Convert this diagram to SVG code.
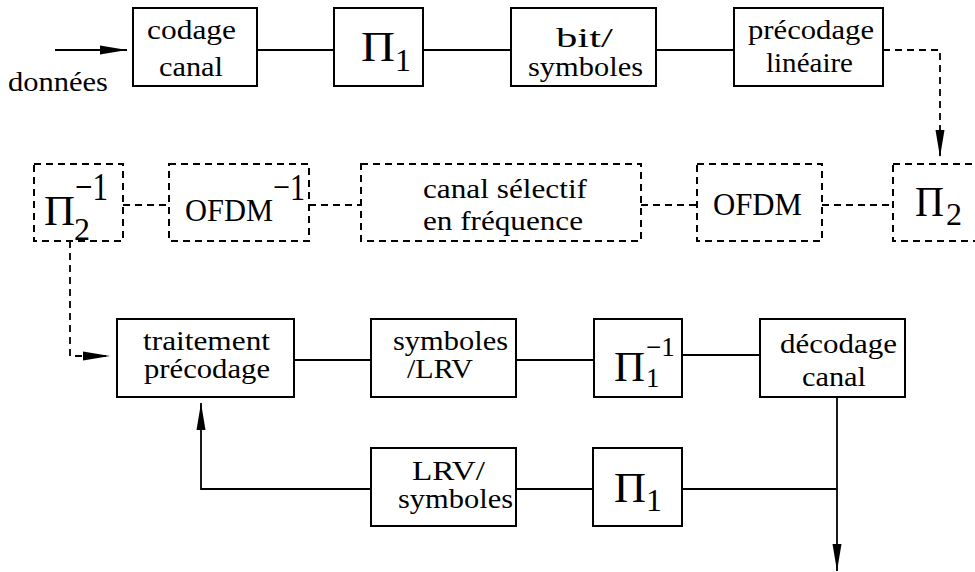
<svg xmlns="http://www.w3.org/2000/svg" width="975" height="572" viewBox="0 0 975 572">
<style>
.box{fill:#fff;stroke:#000;stroke-width:2}
.dbox{fill:#fff;stroke:#000;stroke-width:2;stroke-dasharray:7 5}
.ln{fill:none;stroke:#000;stroke-width:1.8}
.dl{fill:none;stroke:#000;stroke-width:1.8;stroke-dasharray:7 5}
text{font-family:'Liberation Serif','Times New Roman',serif;fill:#000}
.t{font-size:27px}
.pi{font-size:43px}
.sub{font-size:32px}
</style>
<defs>
<marker id="arr" markerUnits="userSpaceOnUse" markerWidth="28" markerHeight="10" refX="27" refY="5" orient="auto">
<path d="M0,0.5 L27,5 L0,9.5 z" fill="#000"/>
</marker>
</defs>
<rect width="975" height="572" fill="#fff"/>
<g id="connectors">
<line class="ln" x1="55" y1="50" x2="127" y2="50" marker-end="url(#arr)"/>
<line class="ln" x1="257" y1="50" x2="334" y2="50"/>
<line class="ln" x1="423" y1="50" x2="511" y2="50"/>
<line class="ln" x1="656" y1="50" x2="734" y2="50"/>
<polyline class="dl" points="883,50 940,50 940,157" marker-end="url(#arr)"/>
<line class="dl" x1="123" y1="205" x2="169" y2="205"/>
<line class="dl" x1="309" y1="205" x2="361" y2="205"/>
<line class="dl" x1="641" y1="205" x2="697" y2="205"/>
<line class="dl" x1="822" y1="205" x2="893" y2="205"/>
<polyline class="dl" points="70,241 70,356 110,356" marker-end="url(#arr)"/>
<line class="ln" x1="294" y1="360" x2="371" y2="360"/>
<line class="ln" x1="516" y1="360" x2="594" y2="360"/>
<line class="ln" x1="682" y1="355" x2="760" y2="355"/>
<line class="ln" x1="837" y1="397" x2="837" y2="571" marker-end="url(#arr)"/>
<line class="ln" x1="837" y1="489" x2="682" y2="489"/>
<line class="ln" x1="593" y1="489" x2="516" y2="489"/>
<polyline class="ln" points="371,489 201,489 201,403" marker-end="url(#arr)"/>
</g>
<g id="donnees"><text class="t" x="8" y="91" textLength="100" lengthAdjust="spacingAndGlyphs">données</text></g>
<g id="codage">
<rect class="box" x="133" y="8" width="124" height="78"/>
<text class="t" x="147" y="39" textLength="89" lengthAdjust="spacingAndGlyphs">codage</text>
<text class="t" x="159" y="76" textLength="64" lengthAdjust="spacingAndGlyphs">canal</text>
</g>
<g id="pi1">
<rect class="box" x="334" y="8" width="89" height="78"/>
<text class="pi" x="361" y="61" textLength="34" lengthAdjust="spacingAndGlyphs">Π</text>
<text class="sub" x="395" y="71">1</text>
</g>
<g id="bitsym">
<rect class="box" x="511" y="8" width="145" height="78"/>
<text class="t" x="556" y="47" textLength="57" lengthAdjust="spacingAndGlyphs">bit/</text>
<text class="t" x="528" y="76" textLength="115" lengthAdjust="spacingAndGlyphs">symboles</text>
</g>
<g id="precodage">
<rect class="box" x="734" y="8" width="149" height="78"/>
<text class="t" x="748" y="39" textLength="126" lengthAdjust="spacingAndGlyphs">précodage</text>
<text class="t" x="766" y="72" textLength="87" lengthAdjust="spacingAndGlyphs">linéaire</text>
</g>
<g id="pi2inv">
<rect class="dbox" x="34" y="164" width="89" height="77"/>
<text class="pi" x="44" y="225" textLength="31" lengthAdjust="spacingAndGlyphs">Π</text>
<text class="sub" x="74" y="240">2</text>
<text font-size="40" x="75" y="200" textLength="33" lengthAdjust="spacingAndGlyphs">−1</text>
</g>
<g id="ofdminv">
<rect class="dbox" x="169" y="164" width="140" height="77"/>
<text font-size="32" x="185" y="221" textLength="88" lengthAdjust="spacingAndGlyphs">OFDM</text>
<text font-size="38" x="273" y="200" textLength="32" lengthAdjust="spacingAndGlyphs">−1</text>
</g>
<g id="canalsel">
<rect class="dbox" x="361" y="164" width="280" height="77"/>
<text class="t" x="423" y="198" textLength="164" lengthAdjust="spacingAndGlyphs">canal sélectif</text>
<text class="t" x="423" y="230" textLength="160" lengthAdjust="spacingAndGlyphs">en fréquence</text>
</g>
<g id="ofdm">
<rect class="dbox" x="697" y="164" width="125" height="77"/>
<text font-size="32" x="713" y="215" textLength="89" lengthAdjust="spacingAndGlyphs">OFDM</text>
</g>
<g id="pi2">
<rect class="dbox" x="893" y="164" width="95" height="77"/>
<text class="pi" x="915" y="216" textLength="29" lengthAdjust="spacingAndGlyphs">Π</text>
<text class="sub" x="946" y="225">2</text>
</g>
<g id="traitement">
<rect class="box" x="117" y="319" width="177" height="78"/>
<text class="t" x="143" y="350" textLength="127" lengthAdjust="spacingAndGlyphs">traitement</text>
<text class="t" x="144" y="378" textLength="126" lengthAdjust="spacingAndGlyphs">précodage</text>
</g>
<g id="symlrv">
<rect class="box" x="371" y="319" width="145" height="78"/>
<text class="t" x="393" y="350" textLength="115" lengthAdjust="spacingAndGlyphs">symboles</text>
<text class="t" x="407" y="378" textLength="66" lengthAdjust="spacingAndGlyphs">/LRV</text>
</g>
<g id="pi1inv">
<rect class="box" x="594" y="319" width="88" height="78"/>
<text class="pi" x="614" y="381" textLength="31" lengthAdjust="spacingAndGlyphs">Π</text>
<text font-size="27" x="646" y="387">1</text>
<text font-size="27" x="646" y="356" textLength="29" lengthAdjust="spacingAndGlyphs">−1</text>
</g>
<g id="decodage">
<rect class="box" x="760" y="319" width="145" height="78"/>
<text class="t" x="780" y="353" textLength="117" lengthAdjust="spacingAndGlyphs">décodage</text>
<text class="t" x="802" y="386" textLength="64" lengthAdjust="spacingAndGlyphs">canal</text>
</g>
<g id="lrvsym">
<rect class="box" x="371" y="448" width="145" height="78"/>
<text class="t" x="412" y="480" textLength="73" lengthAdjust="spacingAndGlyphs">LRV/</text>
<text class="t" x="398" y="508" textLength="115" lengthAdjust="spacingAndGlyphs">symboles</text>
</g>
<g id="pi1b">
<rect class="box" x="593" y="448" width="89" height="78"/>
<text class="pi" x="614" y="502" textLength="32" lengthAdjust="spacingAndGlyphs">Π</text>
<text class="sub" x="646" y="511">1</text>
</g>
</svg>
